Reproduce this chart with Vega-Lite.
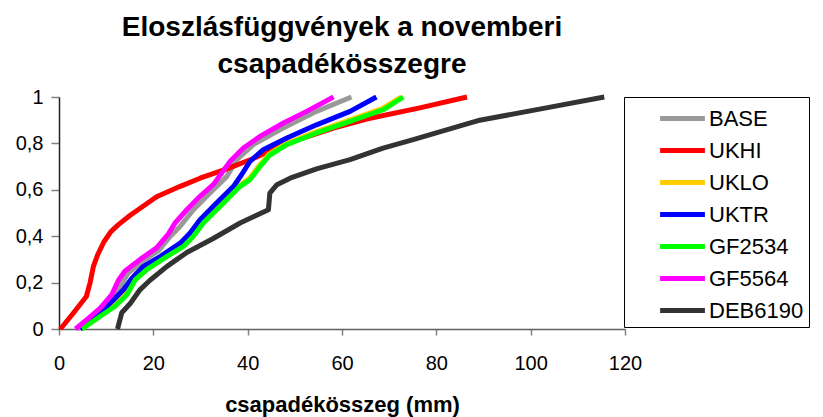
{
  "$schema": "https://vega.github.io/schema/vega-lite/v6.json",
  "autosize": "none",
  "width": 566,
  "height": 232,
  "padding": {"left": 59, "top": 97, "right": 198, "bottom": 88},
  "background": "white",
  "config": {
    "view": {"stroke": null},
    "font": "Liberation Sans"
  },
  "title": {
    "text": ["Eloszlásfüggvények a novemberi", "csapadékösszegre"],
    "font": "Liberation Sans",
    "fontSize": 28,
    "fontWeight": "bold",
    "lineHeight": 37,
    "anchor": "middle",
    "offset": 8,
    "color": "black"
  },
  "data": {
    "values": [
      {"s": "BASE", "x": 4.0, "y": 0},
      {"s": "BASE", "x": 6.5, "y": 0.04},
      {"s": "BASE", "x": 9.2, "y": 0.09},
      {"s": "BASE", "x": 11.6, "y": 0.14},
      {"s": "BASE", "x": 13.2, "y": 0.19},
      {"s": "BASE", "x": 14.6, "y": 0.24},
      {"s": "BASE", "x": 17.6, "y": 0.29},
      {"s": "BASE", "x": 21.2, "y": 0.34},
      {"s": "BASE", "x": 23.6, "y": 0.40},
      {"s": "BASE", "x": 25.7, "y": 0.443},
      {"s": "BASE", "x": 28.5, "y": 0.514},
      {"s": "BASE", "x": 32.0, "y": 0.586},
      {"s": "BASE", "x": 35.6, "y": 0.658},
      {"s": "BASE", "x": 37.7, "y": 0.73},
      {"s": "BASE", "x": 41.2, "y": 0.795},
      {"s": "BASE", "x": 46.9, "y": 0.86},
      {"s": "BASE", "x": 54.6, "y": 0.938},
      {"s": "BASE", "x": 62.0, "y": 1.0},

      {"s": "UKHI", "x": 0.3, "y": 0},
      {"s": "UKHI", "x": 3.1, "y": 0.07},
      {"s": "UKHI", "x": 5.8, "y": 0.14},
      {"s": "UKHI", "x": 6.6, "y": 0.20},
      {"s": "UKHI", "x": 7.3, "y": 0.27},
      {"s": "UKHI", "x": 8.2, "y": 0.32},
      {"s": "UKHI", "x": 9.5, "y": 0.375},
      {"s": "UKHI", "x": 11.0, "y": 0.42},
      {"s": "UKHI", "x": 12.6, "y": 0.45},
      {"s": "UKHI", "x": 15.1, "y": 0.49},
      {"s": "UKHI", "x": 17.9, "y": 0.53},
      {"s": "UKHI", "x": 20.7, "y": 0.57},
      {"s": "UKHI", "x": 25.7, "y": 0.615},
      {"s": "UKHI", "x": 29.9, "y": 0.65},
      {"s": "UKHI", "x": 35.6, "y": 0.69},
      {"s": "UKHI", "x": 41.2, "y": 0.735},
      {"s": "UKHI", "x": 48.3, "y": 0.80},
      {"s": "UKHI", "x": 58.2, "y": 0.866},
      {"s": "UKHI", "x": 65.2, "y": 0.905},
      {"s": "UKHI", "x": 76.5, "y": 0.953},
      {"s": "UKHI", "x": 86.5, "y": 1.0},

      {"s": "UKLO", "x": 4.7, "y": 0},
      {"s": "UKLO", "x": 8.5, "y": 0.057},
      {"s": "UKLO", "x": 11.7, "y": 0.10},
      {"s": "UKLO", "x": 14.2, "y": 0.15},
      {"s": "UKLO", "x": 16.0, "y": 0.215},
      {"s": "UKLO", "x": 18.4, "y": 0.258},
      {"s": "UKLO", "x": 22.7, "y": 0.315},
      {"s": "UKLO", "x": 26.2, "y": 0.358},
      {"s": "UKLO", "x": 28.3, "y": 0.402},
      {"s": "UKLO", "x": 30.4, "y": 0.46},
      {"s": "UKLO", "x": 34.0, "y": 0.532},
      {"s": "UKLO", "x": 38.2, "y": 0.618},
      {"s": "UKLO", "x": 40.3, "y": 0.648},
      {"s": "UKLO", "x": 42.4, "y": 0.703},
      {"s": "UKLO", "x": 44.5, "y": 0.753},
      {"s": "UKLO", "x": 48.1, "y": 0.798},
      {"s": "UKLO", "x": 54.3, "y": 0.849},
      {"s": "UKLO", "x": 61.4, "y": 0.899},
      {"s": "UKLO", "x": 68.4, "y": 0.949},
      {"s": "UKLO", "x": 72.6, "y": 1.0},

      {"s": "UKTR", "x": 4.5, "y": 0},
      {"s": "UKTR", "x": 8.75, "y": 0.07},
      {"s": "UKTR", "x": 11.6, "y": 0.126},
      {"s": "UKTR", "x": 13.7, "y": 0.17},
      {"s": "UKTR", "x": 15.5, "y": 0.22},
      {"s": "UKTR", "x": 17.9, "y": 0.27},
      {"s": "UKTR", "x": 21.5, "y": 0.313},
      {"s": "UKTR", "x": 25.7, "y": 0.37},
      {"s": "UKTR", "x": 27.8, "y": 0.414},
      {"s": "UKTR", "x": 29.9, "y": 0.471},
      {"s": "UKTR", "x": 33.4, "y": 0.543},
      {"s": "UKTR", "x": 37.0, "y": 0.615},
      {"s": "UKTR", "x": 38.7, "y": 0.665},
      {"s": "UKTR", "x": 40.5, "y": 0.723},
      {"s": "UKTR", "x": 43.3, "y": 0.773},
      {"s": "UKTR", "x": 48.3, "y": 0.823},
      {"s": "UKTR", "x": 54.6, "y": 0.88},
      {"s": "UKTR", "x": 61.7, "y": 0.938},
      {"s": "UKTR", "x": 67.3, "y": 1.0},

      {"s": "GF2534", "x": 4.9, "y": 0},
      {"s": "GF2534", "x": 8.75, "y": 0.055},
      {"s": "GF2534", "x": 11.9, "y": 0.098},
      {"s": "GF2534", "x": 14.4, "y": 0.148},
      {"s": "GF2534", "x": 16.2, "y": 0.213},
      {"s": "GF2534", "x": 18.6, "y": 0.256},
      {"s": "GF2534", "x": 22.9, "y": 0.313},
      {"s": "GF2534", "x": 26.4, "y": 0.356},
      {"s": "GF2534", "x": 28.5, "y": 0.40},
      {"s": "GF2534", "x": 30.6, "y": 0.457},
      {"s": "GF2534", "x": 34.2, "y": 0.529},
      {"s": "GF2534", "x": 38.4, "y": 0.615},
      {"s": "GF2534", "x": 40.5, "y": 0.644},
      {"s": "GF2534", "x": 42.6, "y": 0.70},
      {"s": "GF2534", "x": 44.7, "y": 0.75},
      {"s": "GF2534", "x": 48.3, "y": 0.795},
      {"s": "GF2534", "x": 54.6, "y": 0.845},
      {"s": "GF2534", "x": 61.7, "y": 0.895},
      {"s": "GF2534", "x": 68.7, "y": 0.945},
      {"s": "GF2534", "x": 73.0, "y": 1.0},

      {"s": "GF5564", "x": 3.5, "y": 0},
      {"s": "GF5564", "x": 5.9, "y": 0.04},
      {"s": "GF5564", "x": 8.75, "y": 0.09},
      {"s": "GF5564", "x": 11.2, "y": 0.148},
      {"s": "GF5564", "x": 12.6, "y": 0.21},
      {"s": "GF5564", "x": 14.0, "y": 0.25},
      {"s": "GF5564", "x": 17.2, "y": 0.30},
      {"s": "GF5564", "x": 20.7, "y": 0.35},
      {"s": "GF5564", "x": 23.2, "y": 0.41},
      {"s": "GF5564", "x": 24.6, "y": 0.457},
      {"s": "GF5564", "x": 27.1, "y": 0.514},
      {"s": "GF5564", "x": 29.9, "y": 0.572},
      {"s": "GF5564", "x": 32.7, "y": 0.622},
      {"s": "GF5564", "x": 34.5, "y": 0.672},
      {"s": "GF5564", "x": 36.3, "y": 0.723},
      {"s": "GF5564", "x": 39.1, "y": 0.78},
      {"s": "GF5564", "x": 42.6, "y": 0.83},
      {"s": "GF5564", "x": 47.6, "y": 0.888},
      {"s": "GF5564", "x": 52.5, "y": 0.938},
      {"s": "GF5564", "x": 58.2, "y": 1.0},

      {"s": "DEB6190", "x": 12.4, "y": 0},
      {"s": "DEB6190", "x": 13.3, "y": 0.07},
      {"s": "DEB6190", "x": 15.1, "y": 0.11},
      {"s": "DEB6190", "x": 17.2, "y": 0.17},
      {"s": "DEB6190", "x": 19.3, "y": 0.21},
      {"s": "DEB6190", "x": 22.9, "y": 0.27},
      {"s": "DEB6190", "x": 27.1, "y": 0.33},
      {"s": "DEB6190", "x": 32.7, "y": 0.39},
      {"s": "DEB6190", "x": 38.4, "y": 0.457},
      {"s": "DEB6190", "x": 41.9, "y": 0.49},
      {"s": "DEB6190", "x": 44.4, "y": 0.514},
      {"s": "DEB6190", "x": 44.7, "y": 0.586},
      {"s": "DEB6190", "x": 46.2, "y": 0.622},
      {"s": "DEB6190", "x": 49.0, "y": 0.65},
      {"s": "DEB6190", "x": 54.6, "y": 0.69},
      {"s": "DEB6190", "x": 61.7, "y": 0.73},
      {"s": "DEB6190", "x": 68.7, "y": 0.78},
      {"s": "DEB6190", "x": 75.1, "y": 0.816},
      {"s": "DEB6190", "x": 89.2, "y": 0.90},
      {"s": "DEB6190", "x": 103.3, "y": 0.953},
      {"s": "DEB6190", "x": 115.6, "y": 1.0}
    ]
  },
  "mark": {"type": "line", "strokeWidth": 5, "strokeJoin": "round", "strokeCap": "butt", "clip": false},
  "encoding": {
    "x": {
      "field": "x",
      "type": "quantitative",
      "scale": {"domain": [0, 120], "nice": false, "zero": true},
      "axis": {
        "title": "csapadékösszeg (mm)",
        "titleFont": "Liberation Sans",
        "titleFontSize": 22,
        "titleFontWeight": "bold",
        "titleColor": "black",
        "titlePadding": 21,
        "values": [0, 20, 40, 60, 80, 100, 120],
        "labelFont": "Liberation Sans",
        "labelFontSize": 20,
        "labelColor": "black",
        "labelPadding": 18,
        "labelFlush": false,
        "grid": false,
        "tickSize": 6,
        "tickColor": "#808080",
        "tickWidth": 1.5,
        "domainColor": "#606060",
        "domainWidth": 1.5
      }
    },
    "y": {
      "field": "y",
      "type": "quantitative",
      "scale": {"domain": [0, 1], "nice": false},
      "axis": {
        "title": null,
        "values": [0, 0.2, 0.4, 0.6, 0.8, 1],
        "labelExpr": "replace(format(datum.value, '~g'), '.', ',')",
        "labelFont": "Liberation Sans",
        "labelFontSize": 20,
        "labelColor": "black",
        "labelPadding": 8,
        "labelFlush": false,
        "grid": false,
        "tickSize": 8,
        "tickColor": "#808080",
        "tickWidth": 1.5,
        "domainColor": "#202020",
        "domainWidth": 1.5
      }
    },
    "color": {
      "field": "s",
      "type": "nominal",
      "sort": ["BASE", "UKHI", "UKLO", "UKTR", "GF2534", "GF5564", "DEB6190"],
      "scale": {
        "domain": ["BASE", "UKHI", "UKLO", "UKTR", "GF2534", "GF5564", "DEB6190"],
        "range": ["#999999", "#ff0000", "#ffcc00", "#0000ff", "#00ff00", "#ff00ff", "#333333"]
      },
      "legend": {
        "title": null,
        "orient": "none",
        "legendX": 565,
        "legendY": 0,
        "strokeColor": "black",
        "fillColor": "white",
        "padding": 5,
        "symbolOffset": 37,
        "symbolType": "M-1.6,0H1.6",
        "symbolSize": 784,
        "symbolStrokeWidth": 5,
        "labelFont": "Liberation Sans",
        "labelFontSize": 22,
        "labelColor": "black",
        "labelOffset": 10,
        "rowPadding": 4
      }
    }
  }
}
